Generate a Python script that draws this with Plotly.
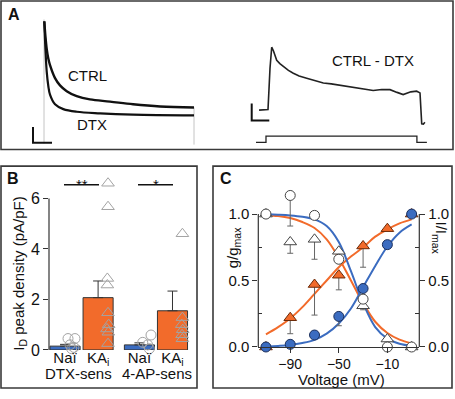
import plotly.graph_objects as go

W, H = 455, 399
def PX(x): return x / W
def PY(y): return 1 - y / H

FONT = "Liberation Sans, Arial, sans-serif"
BLUE = "#3B6CC0"
ORANGE = "#F26B2B"
GRAYM = "#a3a3a3"
DARK = "#333333"

# ---------------- Panel A data (time ms, current nA) ----------------
ctrl_t = [1, 5, 9, 14.3, 20, 36.7, 53.3, 75.7, 109, 153, 220, 297, 387, 500]
ctrl_i = [7.83, 6.81, 6.06, 5.44, 5.02, 4.19, 3.73, 3.36, 3.04, 2.83, 2.69, 2.52, 2.38, 2.31]
dtx_t = [1, 5, 9, 14.3, 20, 36.7, 64.3, 109, 187, 297, 500]
dtx_i = [7.81, 5.94, 4.61, 3.69, 3.14, 2.52, 2.21, 2.04, 1.94, 1.86, 1.81]
onset_t = [0, 0]
onset_i = [0.0, 7.94]
offset_t = [500, 500]
offset_i = [2.31, -0.06]

diff_t = [-26, -10, 3.3, 9.8, 15.4, 21.2, 31.7, 42, 53.3, 70, 86, 105, 129.7, 155, 184, 210,
          238.6, 265, 293, 320, 347, 375, 402, 425, 445, 470, 489, 500, 505.6, 511, 516]
diff_i = [0, 0, 0.04, 2.47, 3.72, 3.5, 2.95, 2.75, 2.57, 2.35, 2.18, 2.02, 1.89, 1.75, 1.60, 1.55,
          1.47, 1.40, 1.31, 1.25, 1.16, 1.22, 1.21, 1.05, 0.92, 1.08, 1.12, 1.02, -0.81, -0.83, -0.71]
step_t = [-36, -3.3, -3.3, 489.9, 489.9, 522.5]
step_v = [-70, -70, 0, 0, -70, -70]

# ---------------- Panel B data ----------------
b_pos = [1, 2, 3.25, 4.25]
b_ticks = ["Naï", "KA<sub>i</sub>", "Naï", "KA<sub>i</sub>"]
b_groups = ["DTX-sens", "4-AP-sens"]
b_means = [0.15, 2.07, 0.20, 1.55]
b_err = [0.07, 0.66, 0.08, 0.78]
b_colors = [BLUE, ORANGE, BLUE, ORANGE]
b_yticks = [0, 2, 4, 6]

naive_x = [1.09, 1.30, 1.15, 1.27, 1.20, 3.60, 3.35, 3.50, 3.55]
naive_y = [0.45, 0.45, 0.20, 0.10, 0.05, 0.59, 0.30, 0.20, 0.05]
ka_x = [2.30, 2.30, 2.28, 2.28, 2.30, 2.32, 2.27, 2.31, 2.30, 4.55, 4.55, 4.53, 4.56, 4.54, 4.55]
ka_y = [6.6, 5.67, 2.83, 2.57, 1.47, 1.0, 0.83, 0.70, 0.25, 4.6, 1.28, 1.0, 0.80, 0.60, 0.44]

# ---------------- Panel C data ----------------
volt = [-110, -90, -70, -50, -30, -10, 10]
act_naive = [0.0, 0.02, 0.09, 0.23, 0.44, 0.77, 1.0]
act_naive_err = [0, 0, 0, 0.07, 0, 0, 0]
act_ka = [0.0, 0.22, 0.47, 0.54, 0.76, 0.89, 1.0]
act_ka_err = [0, 0.12, 0.23, 0.11, 0.16, 0, 0]
inact_naive = [1.0, 1.14, 0.99, 0.66, 0.36, 0.0, 0.0]
inact_naive_err = [0, 0.23, 0, 0, 0, 0, 0]
inact_ka = [1.0, 0.79, 0.81, 0.72, 0.31, 0.06, 0.0]
inact_ka_err = [0, 0.085, 0.15, 0, 0.03, 0, 0]

fit_v = [-110, -100, -90, -80, -70, -60, -50, -40, -30, -20, -10, 0, 10]
fit_act_naive = [0.004, 0.008, 0.015, 0.03, 0.054, 0.10, 0.177, 0.29, 0.45, 0.61, 0.756, 0.86, 0.922]
fit_act_ka = [0.095, 0.15, 0.215, 0.30, 0.40, 0.50, 0.60, 0.68, 0.75, 0.83, 0.885, 0.93, 0.96]
fit_inact_naive = [0.998, 0.995, 0.99, 0.98, 0.96, 0.91, 0.79, 0.57, 0.33, 0.15, 0.063, 0.025, 0.009]
fit_inact_ka = [0.99, 0.985, 0.97, 0.94, 0.895, 0.81, 0.67, 0.50, 0.33, 0.19, 0.105, 0.055, 0.027]
c_xticks = [-90, -50, -10]
c_yticks = [0, 0.5, 1.0]
c_yticktext = ["0.0", "0.5", "1.0"]

fig = go.Figure()

# ---- Panel A traces ----
fig.add_trace(go.Scatter(x=onset_t, y=onset_i, mode="lines", line=dict(color="#c4c4c4", width=1),
                         xaxis="x", yaxis="y"))
fig.add_trace(go.Scatter(x=offset_t, y=offset_i, mode="lines", line=dict(color="#c4c4c4", width=1),
                         xaxis="x", yaxis="y"))
fig.add_trace(go.Scatter(x=ctrl_t, y=ctrl_i, mode="lines", line=dict(color="#111", width=2.4, shape="spline"),
                         xaxis="x", yaxis="y"))
fig.add_trace(go.Scatter(x=dtx_t, y=dtx_i, mode="lines", line=dict(color="#111", width=2.2, shape="spline"),
                         xaxis="x", yaxis="y"))
fig.add_trace(go.Scatter(x=diff_t, y=diff_i, mode="lines", line=dict(color="#222", width=1.6),
                         xaxis="x2", yaxis="y2"))
fig.add_trace(go.Scatter(x=step_t, y=step_v, mode="lines", line=dict(color="#222", width=1.3),
                         xaxis="x2", yaxis="y3"))

# ---- Panel B ----
fig.add_trace(go.Bar(x=b_pos, y=b_means, width=0.91, marker=dict(color=b_colors, line=dict(color=DARK, width=1)),
                     error_y=dict(type="data", array=b_err, arrayminus=[0]*4, symmetric=False,
                                  color=DARK, thickness=1, width=5),
                     xaxis="x4", yaxis="y4"))
fig.add_trace(go.Scatter(x=naive_x, y=naive_y, mode="markers", cliponaxis=False,
                         marker=dict(symbol="circle-open", size=10, color=GRAYM, line=dict(width=1)),
                         xaxis="x4", yaxis="y4"))
fig.add_trace(go.Scatter(x=ka_x, y=ka_y, mode="markers", cliponaxis=False,
                         marker=dict(symbol="triangle-up-open", size=11, color=GRAYM, line=dict(width=1)),
                         xaxis="x4", yaxis="y4"))

# ---- Panel C ----
for yy, col in [(fit_act_ka, ORANGE), (fit_inact_ka, ORANGE), (fit_act_naive, BLUE), (fit_inact_naive, BLUE)]:
    fig.add_trace(go.Scatter(x=fit_v, y=yy, mode="lines", line=dict(color=col, width=2, shape="spline"),
                             xaxis="x5", yaxis="y5"))

def err(a):
    return dict(type="data", array=[0]*len(a), arrayminus=a, symmetric=False, color="#666", thickness=1, width=3)

fig.add_trace(go.Scatter(x=volt, y=act_ka, mode="markers", cliponaxis=False, error_y=err(act_ka_err),
                         marker=dict(symbol="triangle-up", size=11, color=ORANGE, line=dict(color="#6b2a08", width=1)),
                         xaxis="x5", yaxis="y5"))
fig.add_trace(go.Scatter(x=volt, y=act_naive, mode="markers", cliponaxis=False, error_y=err(act_naive_err),
                         marker=dict(symbol="circle", size=10, color=BLUE, line=dict(color="#1b2f5c", width=1)),
                         xaxis="x5", yaxis="y5"))
fig.add_trace(go.Scatter(x=volt, y=inact_ka, mode="markers", cliponaxis=False, error_y=err(inact_ka_err),
                         marker=dict(symbol="triangle-up", size=11, color="white", line=dict(color="#444", width=1)),
                         xaxis="x5", yaxis="y5"))
fig.add_trace(go.Scatter(x=volt, y=inact_naive, mode="markers", cliponaxis=False, error_y=err(inact_naive_err),
                         marker=dict(symbol="circle", size=10, color="white", line=dict(color="#444", width=1)),
                         xaxis="x5", yaxis="y5"))
# dummy trace for right axis
fig.add_trace(go.Scatter(x=[None], y=[None], xaxis="x5", yaxis="y6", showlegend=False))

tickfont = dict(family=FONT, size=15, color="#111")
xtickfont = dict(family=FONT, size=14, color="#111")
hidden = dict(visible=False, showgrid=False, zeroline=False)

# B: value 0 at px 358, 6 at px 203 -> extend range to 6.8 (px 182.3) so top marker shows
# C: value 0 at px 355, 1 at px 219 -> extend range to 1.2 (px 191.8)
fig.update_layout(
    width=W, height=H, margin=dict(l=0, r=0, t=0, b=0),
    paper_bgcolor="white", plot_bgcolor="rgba(0,0,0,0)", showlegend=False,
    font=dict(family=FONT, color="#111"),
    xaxis=dict(domain=[PX(30), PX(200)], range=[-46.7, 520], **hidden),
    yaxis=dict(domain=[PY(150), PY(15)], range=[-0.1875, 8.25], anchor="x", **hidden),
    xaxis2=dict(domain=[PX(245), PX(435)], range=[-71.9, 549], anchor="y2", **hidden),
    yaxis2=dict(domain=[PY(135), PY(40)], range=[-1.29, 4.2], anchor="x2", **hidden),
    yaxis3=dict(domain=[PY(149), PY(136)], range=[-106, 36], anchor="x2", **hidden),
    xaxis4=dict(domain=[PX(49), PX(192)], range=[0.515, 4.84], anchor="y4", showline=False, showgrid=False,
                zeroline=False, tickvals=b_pos, ticktext=b_ticks, ticks="",
                tickfont=dict(family=FONT, size=15, color="#111"), ticklabelstandoff=-3),
    yaxis4=dict(domain=[PY(358), PY(182.3)], range=[0, 6.8], anchor="x4", showline=False,
                ticks="outside", ticklen=5, tickcolor=DARK, tickwidth=1.2, tickvals=b_yticks, showgrid=False,
                zeroline=False, tickfont=dict(family=FONT, size=16, color="#111")),
    xaxis5=dict(domain=[PX(258.3), PX(419.3)], range=[-116.3, 16.3], anchor="y5", showline=True, linecolor=DARK,
                linewidth=1.2, ticks="outside", ticklen=5, tickcolor=DARK, tickvals=c_xticks, showgrid=False,
                zeroline=False, tickfont=xtickfont, ticklabelstandoff=-1),
    yaxis5=dict(domain=[PY(355), PY(191.8)], range=[0, 1.2], anchor="x5", showline=False,
                ticks="outside", ticklen=5, tickcolor=DARK, tickwidth=1.2, tickvals=c_yticks, ticktext=c_yticktext,
                showgrid=False, zeroline=False, tickfont=tickfont,
                minor=dict(ticks="inside", ticklen=4, tickvals=[0.25, 0.75], tickcolor=DARK)),
    yaxis6=dict(domain=[PY(355), PY(191.8)], range=[0, 1.2], anchor="x5", overlaying="y5", side="right",
                showline=False, ticks="outside", ticklen=5, tickcolor=DARK, tickwidth=1.2, tickvals=c_yticks,
                ticktext=c_yticktext, showgrid=False, zeroline=False, tickfont=tickfont,
                minor=dict(ticks="inside", ticklen=4, tickvals=[0.25, 0.75], tickcolor=DARK)),
)

shapes = []
# panel borders
for x0, y0, x1, y1 in [(1, 1, 453, 153), (1, 170, 197, 397), (213, 170, 452, 397)]:
    shapes.append(dict(type="rect", xref="paper", yref="paper", x0=PX(x0), x1=PX(x1), y0=PY(y1), y1=PY(y0),
                       line=dict(color="#3a3a3a", width=1.6)))
# axis lines that stop at the top tick
for x, y0, y1 in [(49, 358, 203), (258.3, 355, 219), (419.3, 355, 219)]:
    shapes.append(dict(type="line", xref="paper", yref="paper", x0=PX(x), x1=PX(x), y0=PY(y0), y1=PY(y1),
                       line=dict(color=DARK, width=1.2)))
# scale bars panel A
for pts in [[(33, 130), (33, 146), (52, 146)], [(251.7, 106), (251.7, 123.3), (269.3, 123.3)]]:
    path = "M " + " L ".join(f"{PX(a)},{PY(b)}" for a, b in pts)
    shapes.append(dict(type="path", xref="paper", yref="paper", path=path, line=dict(color="#111", width=2)))
# significance bars
for x0, x1 in [(64, 99), (138, 173)]:
    shapes.append(dict(type="line", xref="paper", yref="paper", x0=PX(x0), x1=PX(x1), y0=PY(189), y1=PY(189),
                       line=dict(color="#111", width=1.6)))
fig.update_layout(shapes=shapes)

def ann(x, y, text, size=15, angle=0, bold=False, xanchor="center"):
    t = f"<b>{text}</b>" if bold else text
    return dict(x=PX(x), y=PY(y), xref="paper", yref="paper", text=t, showarrow=False, textangle=angle,
                font=dict(family=FONT, size=size, color="#111"), xanchor=xanchor, yanchor="middle")

annotations = [
    ann(6, 15, "A", 16, bold=True, xanchor="left"),
    ann(5, 183, "B", 16, bold=True, xanchor="left"),
    ann(218, 183, "C", 16, bold=True, xanchor="left"),
    ann(87, 77, "CTRL", 15),
    ann(92, 127, "DTX", 15),
    ann(373, 62, "CTRL - DTX", 15),
    ann(78, 382, b_groups[0], 15),
    ann(157, 382, b_groups[1], 15),
    ann(81.5, 189, "**", 15),
    ann(155.5, 189, "*", 15),
    ann(20, 280, "I<sub>D</sub> peak density (pA/pF)", 15, angle=-90),
    ann(233, 253, "g/g<sub>max</sub>", 15, angle=-90),
    ann(440, 243, "I/I<sub>max</sub>", 15, angle=90),
    ann(341.7, 388, "Voltage (mV)", 15),
]
fig.update_layout(annotations=annotations)

fig.write_html("out.html", config={"displayModeBar": False},
               post_script="document.body.style.margin='0';document.body.style.overflow='hidden';")
